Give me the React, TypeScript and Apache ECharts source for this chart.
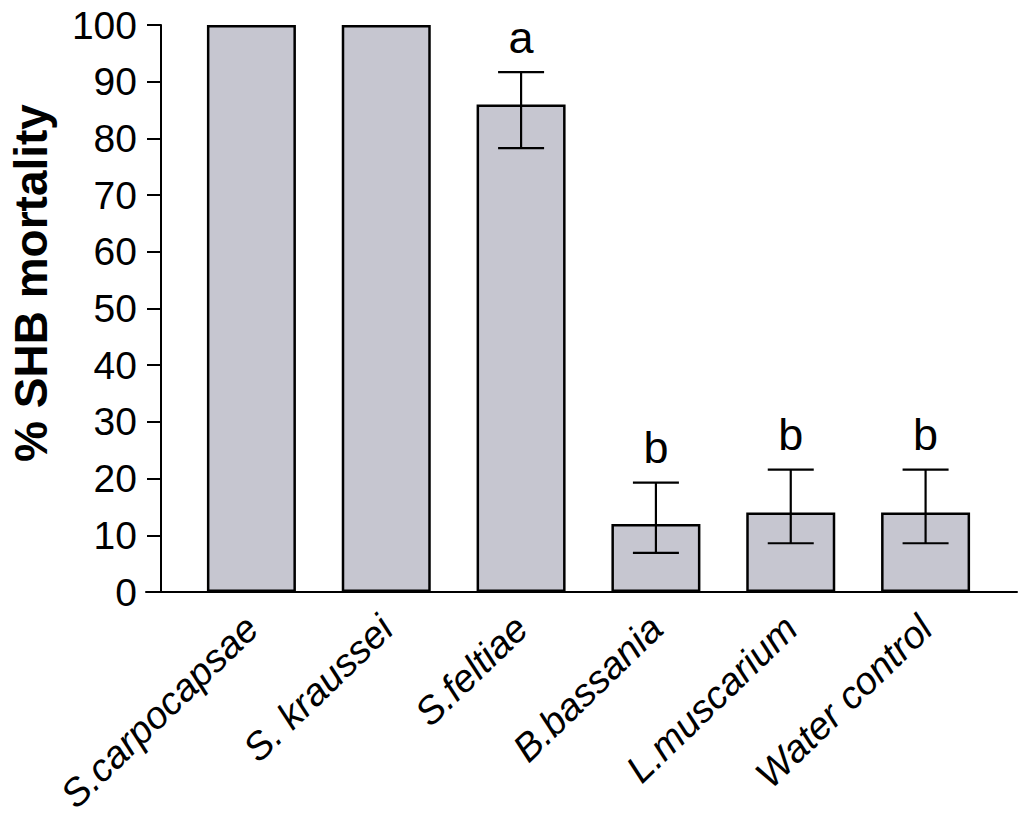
import React, { useEffect, useRef } from "react";
import * as echarts from "echarts";

const categories = ["S.carpocapsae", "S. kraussei", "S.feltiae", "B.bassania", "L.muscarium", "Water control"];
const mortality = [100, 100, 86, 12, 14, 14];
const errLow: (number | null)[] = [null, null, 78.3, 6.9, 8.6, 8.6];
const errHigh: (number | null)[] = [null, null, 91.7, 19.3, 21.6, 21.6];
const letters = ["", "", "a", "b", "b", "b"];
const yTicks = { min: 0, max: 100, interval: 10 };

const FONT = "'Liberation Sans', Arial, sans-serif";

export default function App() {
  const ref = useRef<HTMLDivElement>(null);
  useEffect(() => {
    document.body.style.margin = "0";
    if (!ref.current) return;
    const chart = echarts.init(ref.current, undefined, { renderer: "svg" });
    const errData: number[][] = [];
    const errLetters: string[] = [];
    categories.forEach((_, i) => {
      if (errLow[i] != null && errHigh[i] != null) {
        errData.push([i, errLow[i] as number, errHigh[i] as number]);
        errLetters.push(letters[i]);
      }
    });
    const top = 25;
    const bottom = 228;
    chart.setOption({
      animation: false,
      backgroundColor: "#ffffff",
      grid: [
        { left: 146, right: 7, top, bottom },
        { left: 161, right: 7, top, bottom },
        { left: 184, right: 31, top, bottom },
      ],
      xAxis: [
        {
          gridIndex: 0,
          type: "value",
          min: 0,
          max: 1,
          axisLine: { show: true, lineStyle: { color: "#000", width: 2 } },
          axisTick: { show: false },
          axisLabel: { show: false },
          splitLine: { show: false },
        },
        {
          gridIndex: 1,
          type: "value",
          min: 0,
          max: 1,
          show: false,
        },
        {
          gridIndex: 2,
          type: "category",
          data: categories,
          axisLine: { show: false },
          axisTick: { show: false },
          splitLine: { show: false },
          axisLabel: {
            interval: 0,
            rotate: 44,
            margin: 30,
            fontSize: 38.5,
            fontStyle: "italic",
            fontFamily: FONT,
            color: "#000",
          },
        },
      ],
      yAxis: [
        {
          gridIndex: 0,
          type: "value",
          min: 0,
          max: 100,
          show: false,
        },
        {
          gridIndex: 1,
          type: "value",
          min: yTicks.min,
          max: yTicks.max,
          interval: yTicks.interval,
          axisLine: { show: true, lineStyle: { color: "#000", width: 2 } },
          axisTick: { show: true, inside: false, length: 14, lineStyle: { color: "#000", width: 2 } },
          axisLabel: { margin: 24, fontSize: 39, fontFamily: FONT, color: "#000" },
          splitLine: { show: false },
        },
        {
          gridIndex: 2,
          type: "value",
          min: 0,
          max: 100,
          show: false,
        },
      ],
      series: [
        {
          type: "bar",
          xAxisIndex: 2,
          yAxisIndex: 2,
          data: mortality,
          barWidth: 89,
          itemStyle: { color: "#c6c6d0", borderColor: "#000", borderWidth: 2.5 },
          z: 2,
        },
        {
          type: "custom",
          xAxisIndex: 2,
          yAxisIndex: 2,
          data: errData,
          z: 5,
          renderItem: (params: any, api: any) => {
            const i = api.value(0);
            const lo = api.value(1);
            const hi = api.value(2);
            const pHi = api.coord([i, hi]);
            const pLo = api.coord([i, lo]);
            const hw = 23;
            const ls = { stroke: "#000", lineWidth: 2.2 };
            return {
              type: "group",
              children: [
                { type: "line", shape: { x1: pHi[0], y1: pHi[1], x2: pLo[0], y2: pLo[1] }, style: ls },
                { type: "line", shape: { x1: pHi[0] - hw, y1: pHi[1], x2: pHi[0] + hw, y2: pHi[1] }, style: ls },
                { type: "line", shape: { x1: pLo[0] - hw, y1: pLo[1], x2: pLo[0] + hw, y2: pLo[1] }, style: ls },
                {
                  type: "text",
                  x: pHi[0],
                  y: pHi[1] - 35,
                  style: {
                    text: errLetters[params.dataIndex],
                    fill: "#000",
                    fontSize: 45,
                    fontFamily: FONT,
                    align: "center",
                    verticalAlign: "middle",
                  },
                },
              ],
            };
          },
        },
      ],
      graphic: [
        {
          type: "text",
          x: 31,
          y: 283,
          rotation: Math.PI / 2,
          style: {
            text: "% SHB mortality",
            fill: "#000",
            fontSize: 46,
            fontWeight: "bold",
            fontFamily: FONT,
            align: "center",
            verticalAlign: "middle",
          },
        },
      ],
    });
    return () => chart.dispose();
  }, []);
  return <div ref={ref} style={{ width: 1024, height: 820 }} />;
}
